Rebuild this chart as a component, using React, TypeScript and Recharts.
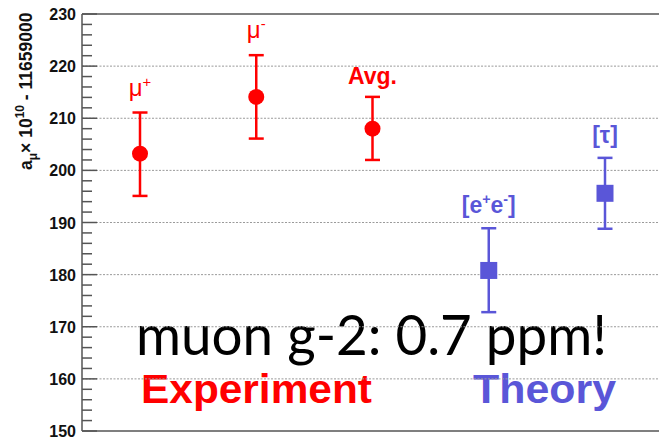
import React from "react";
import { ComposedChart, Scatter, XAxis, YAxis, ErrorBar, ReferenceLine, Label } from "recharts";

// ---- data ----
const categories = ["mu+", "mu-", "avg", "ee", "tau"];

const expCategories = ["mu+", "mu-", "avg"];
const expValues = [203.2, 214.1, 208.0];
const expErrLow = [8.1, 8.0, 6.0];
const expErrHigh = [7.9, 8.0, 6.1];
const expLabels = ["μ^+", "μ^-", "Avg."];

const theoCategories = ["ee", "tau"];
const theoValues = [180.8, 195.6];
const theoErrLow = [8.0, 6.8];
const theoErrHigh = [8.1, 6.8];
const theoLabels = ["[e^+e^-]", "[τ]"];

const majorTicks = [150, 160, 170, 180, 190, 200, 210, 220, 230];
const allTicks = [
  150, 152, 154, 156, 158, 160, 162, 164, 166, 168, 170, 172, 174, 176, 178, 180,
  182, 184, 186, 188, 190, 192, 194, 196, 198, 200, 202, 204, 206, 208, 210, 212,
  214, 216, 218, 220, 222, 224, 226, 228, 230,
];
const gridValues = [160, 170, 180, 190, 200, 210, 220];

const titleText = "muon g-2: 0.7 ppm!";
const groupLabels = ["Experiment", "Theory"];

// ---- styles ----
const RED = "#ff0000";
const BLUE = "#5a56d8";
const AXIS = "#555555";
const SANS = "'Liberation Sans', Arial, Helvetica, sans-serif";

const expRows = expCategories.map((name, i) => ({
  name,
  value: expValues[i],
  err: [expErrLow[i], expErrHigh[i]],
  top: expValues[i] + expErrHigh[i],
  label: expLabels[i],
}));
const theoRows = theoCategories.map((name, i) => ({
  name,
  value: theoValues[i],
  err: [theoErrLow[i], theoErrHigh[i]],
  top: theoValues[i] + theoErrHigh[i],
  label: theoLabels[i],
}));

function renderRich(label: string) {
  const parts: React.ReactNode[] = [];
  let i = 0;
  let k = 0;
  let raised = false;
  while (i < label.length) {
    if (label[i] === "^" && i + 1 < label.length) {
      parts.push(
        <tspan key={k++} dy={raised ? 0 : -9} fontSize="0.62em">
          {label[i + 1]}
        </tspan>
      );
      raised = true;
      i += 2;
    } else {
      let j = i;
      while (j < label.length && label[j] !== "^") j++;
      parts.push(
        <tspan key={k++} dy={raised ? 9 : 0}>
          {label.slice(i, j)}
        </tspan>
      );
      raised = false;
      i = j;
    }
  }
  return parts;
}

const makeLabelShape = (color: string) => (props: any) => {
  const { cx, cy, payload } = props;
  const lbl: string = payload.label;
  const isMu = lbl.startsWith("μ");
  const off = isMu ? 17 : lbl.startsWith("Avg") ? 13 : 15;
  return (
    <text
      x={cx}
      y={cy - off}
      textAnchor="middle"
      fill={color}
      fontFamily={SANS}
      fontSize={isMu ? 24 : 23}
      fontWeight={isMu ? "normal" : "bold"}
    >
      {renderRich(lbl)}
    </text>
  );
};

const circleShape = (props: any) => <circle cx={props.cx} cy={props.cy} r={8} fill={RED} />;
const squareShape = (props: any) => (
  <rect x={props.cx - 8.5} y={props.cy - 8.5} width={17} height={17} fill={BLUE} />
);

const renderTick = (props: any) => {
  const { x, y, payload } = props;
  const v = payload.value;
  const isMajor = majorTicks.includes(v);
  return (
    <g>
      <line x1={x} x2={x + (isMajor ? 15 : 10)} y1={y} y2={y} stroke={AXIS} strokeWidth={1.5} />
      {isMajor && (
        <text
          x={x - 6}
          y={y}
          dy={6}
          textAnchor="end"
          fontFamily={SANS}
          fontWeight="bold"
          fontSize={16}
          fill="#111"
        >
          {v}
        </text>
      )}
    </g>
  );
};

const yTitle = (props: any) => {
  const vb = props.viewBox || { x: 0, y: 14 };
  const tx = vb.x + 32;
  const ty = vb.y + 156;
  return (
    <text
      transform={`translate(${tx},${ty}) rotate(-90)`}
      x={0}
      y={0}
      fontFamily={SANS}
      fontSize={17.5}
      fontWeight="bold"
      fill="#111"
    >
      <tspan>a</tspan>
      <tspan dy={5} fontSize={12}>μ</tspan>
      <tspan dy={-5}>{"\u00d7 10"}</tspan>
      <tspan dy={-8} fontSize={12}>10</tspan>
      <tspan dy={8}>{" - 11659000"}</tspan>
    </text>
  );
};

export default function App() {
  return (
    <div
      style={{
        position: "absolute",
        left: 0,
        top: 0,
        width: 659,
        height: 440,
        overflow: "hidden",
        background: "#fff",
      }}
    >
      <ComposedChart width={663} height={440} margin={{ top: 14, right: 0, bottom: 9, left: 0 }}>
        <XAxis
          dataKey="name"
          type="category"
          allowDuplicatedCategory={false}
          ticks={categories}
          padding={{ left: 58, right: 58 }}
          hide
        />
        <YAxis
          type="number"
          domain={[150, 230]}
          ticks={allTicks}
          interval={0}
          width={82}
          tickSize={0}
          tickMargin={0}
          tickLine={false}
          axisLine={{ stroke: AXIS, strokeWidth: 1.5 }}
          tick={renderTick}
        >
          <Label content={yTitle} />
        </YAxis>
        {gridValues.map((g) => (
          <ReferenceLine key={g} y={g} stroke="#9a9a9a" strokeWidth={1} strokeDasharray="2 1.5" />
        ))}
        <ReferenceLine y={230} stroke={AXIS} strokeWidth={1.5} />
        <ReferenceLine y={150} stroke={AXIS} strokeWidth={1.5} />

        <Scatter data={expRows} dataKey="value" shape={circleShape} isAnimationActive={false}>
          <ErrorBar dataKey="err" direction="y" width={7.5} strokeWidth={2.5} stroke={RED} />
        </Scatter>
        <Scatter data={theoRows} dataKey="value" shape={squareShape} isAnimationActive={false}>
          <ErrorBar dataKey="err" direction="y" width={7.5} strokeWidth={2.5} stroke={BLUE} />
        </Scatter>
        <Scatter data={expRows} dataKey="top" shape={makeLabelShape(RED)} isAnimationActive={false} />
        <Scatter data={theoRows} dataKey="top" shape={makeLabelShape(BLUE)} isAnimationActive={false} />

        <text
          x={136}
          y={355}
          fontFamily="Lato, 'Open Sans', sans-serif"
          fontSize={56}
          fill="#000"
          textLength={471}
          lengthAdjust="spacingAndGlyphs"
        >
          {titleText}
        </text>
        <text
          x={141}
          y={403}
          fontFamily={SANS}
          fontWeight="bold"
          fontSize={41}
          fill={RED}
          textLength={231}
          lengthAdjust="spacingAndGlyphs"
        >
          {groupLabels[0]}
        </text>
        <text
          x={473}
          y={403}
          fontFamily={SANS}
          fontWeight="bold"
          fontSize={41}
          fill={BLUE}
          textLength={143}
          lengthAdjust="spacingAndGlyphs"
        >
          {groupLabels[1]}
        </text>
      </ComposedChart>
    </div>
  );
}
